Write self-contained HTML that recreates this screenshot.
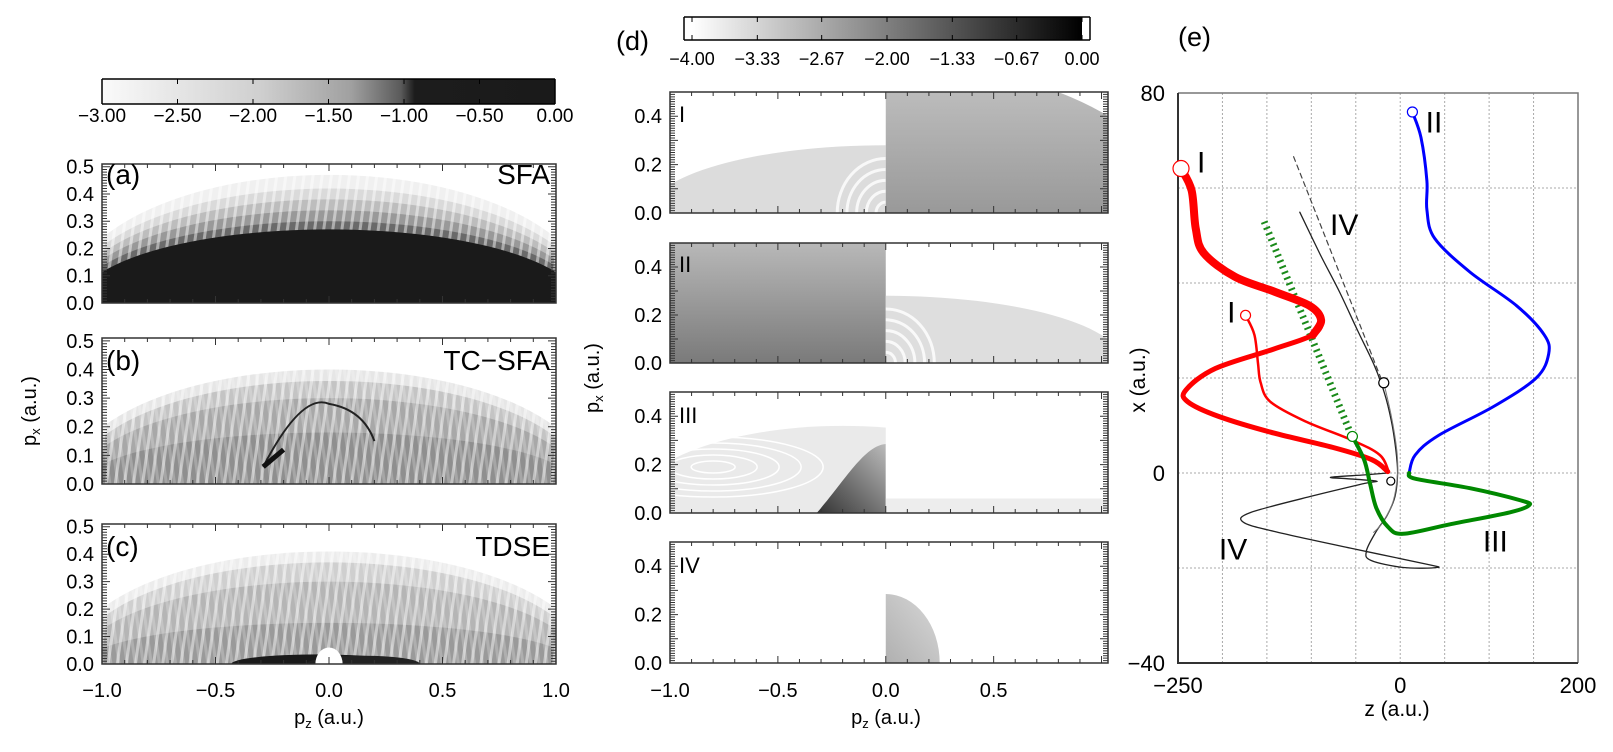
<!DOCTYPE html>
<html><head><meta charset="utf-8"><style>
html,body{margin:0;padding:0;background:#fff;}
svg{display:block;font-family:"Liberation Sans",sans-serif;}
</style></head><body>
<svg id="fig" width="1613" height="752" viewBox="0 0 1613 752" xmlns="http://www.w3.org/2000/svg">
<defs>
<linearGradient id="cbA" x1="0" x2="1" y1="0" y2="0">
<stop offset="0" stop-color="#fafafa"/><stop offset="0.35" stop-color="#cfcfcf"/><stop offset="0.55" stop-color="#a0a0a0"/><stop offset="0.66" stop-color="#5a5a5a"/><stop offset="0.69" stop-color="#1c1c1c"/><stop offset="1" stop-color="#1a1a1a"/>
</linearGradient>
<linearGradient id="cbD" x1="0" x2="1" y1="0" y2="0">
<stop offset="0" stop-color="#ffffff"/><stop offset="1" stop-color="#000000"/>
</linearGradient>
<linearGradient id="gv1" x1="0" x2="0" y1="0" y2="1"><stop offset="0" stop-color="#c4c4c4"/><stop offset="1" stop-color="#6e6e6e"/></linearGradient>
<linearGradient id="gv2" x1="0" x2="0" y1="0" y2="1"><stop offset="0" stop-color="#b8b8b8"/><stop offset="1" stop-color="#7a7a7a"/></linearGradient>
<linearGradient id="gv3" x1="0" x2="1" y1="1" y2="0"><stop offset="0" stop-color="#333"/><stop offset="1" stop-color="#bbb"/></linearGradient>
<linearGradient id="gv4" x1="0" x2="1" y1="1" y2="0"><stop offset="0" stop-color="#888"/><stop offset="1" stop-color="#d8d8d8"/></linearGradient>
<pattern id="stripes" width="9" height="10" patternUnits="userSpaceOnUse" patternTransform="rotate(8)">
<rect width="3" height="10" fill="#fff" opacity="0.45"/></pattern>
<pattern id="stripes2" width="8" height="10" patternUnits="userSpaceOnUse" patternTransform="rotate(-8)">
<rect width="3" height="10" fill="#fff" opacity="0.35"/></pattern>
</defs>
</svg>
<script>
// ---------- data ----------
var cbATicks = [-3.00, -2.50, -2.00, -1.50, -1.00, -0.50, 0.00];
var cbALabels = ["\u22123.00","\u22122.50","\u22122.00","\u22121.50","\u22121.00","\u22120.50","0.00"];
var cbDTicks = [-4.00, -3.33, -2.67, -2.00, -1.33, -0.67, 0.00];
var cbDLabels = ["\u22124.00","\u22123.33","\u22122.67","\u22122.00","\u22121.33","\u22120.67","0.00"];
var pzTicks = [-1.0, -0.5, 0.0, 0.5, 1.0];
var pzLabels = ["\u22121.0","\u22120.5","0.0","0.5","1.0"];
var pzTicksD = [-1.0, -0.5, 0.0, 0.5];
var pzLabelsD = ["\u22121.0","\u22120.5","0.0","0.5"];
var pxTicksABC = [0.0, 0.1, 0.2, 0.3, 0.4, 0.5];
var pxTicksD = [0.0, 0.2, 0.4];
var zTicks = [-250, 0, 200];
var zLabels = ["\u2212250","0","200"];
var xTicks = [80, 0, -40];
var xLabels = ["80","0","\u221240"];
// trajectories (z, x in a.u.)
var redThickZ = [-246.6,-234.7,-230,-221,-186,-142,-102,-89,-98,-142,-208,-241,-239,-204,-142,-76,-32,-14];
var redThickX = [64.1,59.5,51.4,46.3,41.3,38.2,35.2,32.2,29.1,26.1,22,17.5,15,11.9,8.4,5.4,2.8,0.3];
var redThinZ = [-174,-164,-160,-157,-146,-107,-54,-23,-13];
var redThinX = [33.2,29.1,23.1,19,15,10.9,6.9,3.8,0.3];
var blueZ = [13.7,23.4,30,30,38.8,78.5,131,162,167,153,105,43,16.8,10];
var blueX = [76,70.6,61.5,55.4,49.4,42.3,35.2,29.1,25.1,20,14,7.9,3.8,0];
var greenZ = [-53.8,-40.6,-34,-27,-14,3.5,56,123,145,136,78.5,16.8,10];
var greenX = [7.7,2.8,-2.2,-7.3,-11.3,-12.8,-10.8,-8.3,-6.8,-5.8,-3.2,-1.2,0];
var hatchZ = [-153,-56];
var hatchX = [52.9,8.4];
var blackZ = [-113,-90,-68,-48,-30,-18,-10,-5,-3,-6,-15,-27,-38,-33,3.5,41,30,-54,-142,-177,-168,-98,-40,-27,-60,-78,-40,-14];
var blackX = [54.9,46,38,30,23,17,11,5,0,-5,-9,-12.3,-16.4,-18.4,-19.9,-19.9,-19.2,-15.9,-12.3,-10.3,-8.3,-4.8,-2.2,-1.7,-1.2,-0.9,-0.4,0];
var grayZ = [-18.5,-10,-4,-3,-8,-20,-30];
var grayX = [19,12,5,0,-6,-10.5,-12.5];
var dashZ = [-120,-20.7];
var dashX = [66.6,19.5];
var markerZ = [-246.6,-174,13.7,-53.8,-18.5,-10.6];
var markerX = [64.1,33.2,76,7.7,19,-1.7];
var markerR = [8,5,5,5,5,4];
var markerC = ["#f00","#f00","#00f","#080","#000","#000"];
var trajLabels = ["I","II","IV","I","IV","III"];
var trajLabelZ = [-224,38,-63,-190,-188,107];
var trajLabelX = [65.6,74,52.4,34,-15.9,-14.2];

// ---------- helpers ----------
var NS = "http://www.w3.org/2000/svg";
var svg = document.getElementById('fig');
function mk(tag, attrs, parent){
  var e = document.createElementNS(NS, tag);
  for (var k in attrs) e.setAttribute(k, attrs[k]);
  (parent || svg).appendChild(e);
  return e;
}
function txt(s, attrs, parent){ var t = mk('text', attrs, parent); t.textContent = s; return t; }
function lin(d0,d1,r0,r1){ return function(v){ return r0 + (v-d0)/(d1-d0)*(r1-r0); }; }
function smooth(pts){
  var d = "M"+pts[0][0].toFixed(1)+","+pts[0][1].toFixed(1);
  for (var i=0;i<pts.length-1;i++){
    var p0=pts[Math.max(i-1,0)], p1=pts[i], p2=pts[i+1], p3=pts[Math.min(i+2,pts.length-1)];
    var c1=[p1[0]+(p2[0]-p0[0])/6, p1[1]+(p2[1]-p0[1])/6];
    var c2=[p2[0]-(p3[0]-p1[0])/6, p2[1]-(p3[1]-p1[1])/6];
    d += "C"+c1[0].toFixed(1)+","+c1[1].toFixed(1)+" "+c2[0].toFixed(1)+","+c2[1].toFixed(1)+" "+p2[0].toFixed(1)+","+p2[1].toFixed(1);
  }
  return d;
}

// ---------- colorbars ----------
function colorbar(x0,x1,y0,y1,grad,ticks,labels,name,br){
  var g = mk('g',{});
  
  
  var r = mk('rect',{x:x0,y:y0,width:x1-x0,height:y1-y0,fill:'url(#'+grad+')'},g);
  
  
  mk('path',{d:'M'+(x0-br)+','+y0+'H'+(x1+br)+'M'+(x0-br)+','+y1+'H'+(x1+br)+'M'+(x0-br)+','+y0+'V'+y1+'M'+(x1+br)+','+y0+'V'+y1,stroke:'#000','stroke-width':1.5,fill:'none'},g);
  var sx = lin(ticks[0],ticks[ticks.length-1],x0,x1);
  for (var i=0;i<ticks.length;i++){
    var x = sx(ticks[i]);
    mk('line',{x1:x,x2:x,y1:y0,y2:y0+5,stroke:'#000','stroke-width':1},g);
    mk('line',{x1:x,x2:x,y1:y1,y2:y1-5,stroke:'#000','stroke-width':1},g);
    var t = txt(labels[i],{x:x,y:y1+ (name==='colorbar-a'?18:25),'font-size':name==='colorbar-a'?19:18,'text-anchor':'middle'},g);
    
    
  }
}
colorbar(102,555,79,104,'cbA',cbATicks,cbALabels,'colorbar-a',0);
colorbar(692,1082,17,40,'cbD',cbDTicks,cbDLabels,'colorbar-d',8);

// ---------- momentum panels ----------
function frame(P, name, xt, showXLab, yt, yLabFmt, g){
  var fr = mk('rect',{x:P.x0,y:P.top,width:P.x1-P.x0,height:P.bot-P.top,fill:'none',stroke:'#333','stroke-width':1.5},g);
  
  
  var d = "";
  for (var v=-1.0; v<=1.0001; v+=0.1){
    var x = P.sx(v); var major = Math.abs(v*2-Math.round(v*2))<1e-6;
    var L = major?7:4;
    d += "M"+x+","+P.bot+"v"+(-L)+"M"+x+","+P.top+"v"+L;
  }
  for (var w=0; w<=P.ymax+1e-6; w+=0.01){
    var y = P.sy(w); var maj = Math.abs(w*10-Math.round(w*10))<1e-6;
    var L2 = maj?8:5;
    d += "M"+P.x0+","+y+"h"+L2+"M"+P.x1+","+y+"h"+(-L2);
  }
  mk('path',{d:d,stroke:'#333','stroke-width':1,fill:'none'},g);
  for (var i=0;i<yt.length;i++){
    var t = txt(yt[i].toFixed(1),{x:P.x0-8,y:P.sy(yt[i])+7,'font-size':20,'text-anchor':'end'},g);
    
    
  }
}
function panel(name, top, bot, x0, x1, xr, ymax){
  var P = {x0:x0,x1:x1,top:top,bot:bot,ymax:ymax};
  P.sx = lin(-1, xr, x0, x1);
  P.sy = lin(0, ymax, bot, top);
  var g = mk('g',{});
  
  
  var cid = 'clip-'+name;
  var cp = mk('clipPath',{id:cid},svg);
  mk('rect',{x:x0,y:top,width:x1-x0,height:bot-top},cp);
  P.g = g;
  P.img = mk('g',{'clip-path':'url(#'+cid+')'},g);
  return P;
}
function ell(P, cx, rx, ry, fill, parent, extra){
  var a = {cx:P.sx(cx), cy:P.bot, rx:Math.abs(P.sx(rx)-P.sx(0)), ry:Math.abs(P.sy(ry)-P.sy(0)), fill:fill};
  for (var k in extra) a[k]=extra[k];
  return mk('ellipse', a, parent||P.img);
}

// (a) SFA
var PA = panel('panel-a-sfa',164,303,102,556,1.0,0.51);
mk('rect',{x:102,y:164,width:454,height:139,fill:'#fff'},PA.img);
var levelsA=[[1.16,0.47,'#f0f0f0'],[1.15,0.42,'#dadada'],[1.14,0.38,'#bdbdbd'],[1.13,0.34,'#999'],[1.12,0.30,'#6a6a6a']];
for (var i=0;i<levelsA.length;i++) ell(PA,0,levelsA[i][0],levelsA[i][1],levelsA[i][2]);
mk('rect',{x:102,y:164,width:454,height:139,fill:'url(#stripes)'},PA.img);
ell(PA,0,1.1,0.27,'#1a1a1a');
frame(PA,'panel-a',pzTicks,false,pxTicksABC,1,PA.g);
txt('(a)',{x:106,y:184,'font-size':28},PA.g);
txt('SFA',{x:550,y:184,'font-size':28,'text-anchor':'end'},PA.g);

// (b) TC-SFA
var PB = panel('panel-b-tcsfa',338,484,102,556,1.0,0.51);
mk('rect',{x:102,y:338,width:454,height:146,fill:'#fff'},PB.img);
ell(PB,0,1.15,0.40,'#e6e6e6'); ell(PB,0,1.12,0.36,'#c4c4c4'); ell(PB,0,1.10,0.30,'#a8a8a8'); ell(PB,0,1.08,0.18,'#8f8f8f');
mk('rect',{x:102,y:338,width:454,height:146,fill:'url(#stripes)'},PB.img);
mk('rect',{x:102,y:338,width:454,height:146,fill:'url(#stripes2)',opacity:0.6},PB.img);
mk('path',{d:'M'+PB.sx(-0.29)+','+PB.sy(0.06)+' Q'+PB.sx(-0.12)+','+PB.sy(0.32)+' '+PB.sx(0.0)+','+PB.sy(0.28)+' Q'+PB.sx(0.15)+','+PB.sy(0.26)+' '+PB.sx(0.2)+','+PB.sy(0.15),fill:'none',stroke:'#222','stroke-width':2},PB.img);
mk('path',{d:'M'+PB.sx(-0.29)+','+PB.sy(0.06)+' L'+PB.sx(-0.2)+','+PB.sy(0.12),fill:'none',stroke:'#111','stroke-width':5},PB.img);
frame(PB,'panel-b',pzTicks,false,pxTicksABC,1,PB.g);
txt('(b)',{x:106,y:370,'font-size':28},PB.g);
txt('TC\u2212SFA',{x:550,y:370,'font-size':28,'text-anchor':'end'},PB.g);

// (c) TDSE
var PC = panel('panel-c-tdse',524,664,102,556,1.0,0.51);
mk('rect',{x:102,y:524,width:454,height:140,fill:'#fff'},PC.img);
ell(PC,0,1.15,0.41,'#ececec'); ell(PC,0,1.12,0.37,'#cfcfcf'); ell(PC,0,1.10,0.30,'#b5b5b5'); ell(PC,0,1.08,0.15,'#9a9a9a');
mk('rect',{x:102,y:524,width:454,height:140,fill:'url(#stripes)'},PC.img);
mk('rect',{x:102,y:524,width:454,height:140,fill:'url(#stripes2)',opacity:0.6},PC.img);
ell(PC,-0.05,0.38,0.035,'#1a1a1a'); ell(PC,0.15,0.25,0.03,'#222');
ell(PC,0,0.06,0.06,'#fff');
frame(PC,'panel-c',pzTicks,true,pxTicksABC,1,PC.g);
txt('(c)',{x:106,y:556,'font-size':28},PC.g);
txt('TDSE',{x:550,y:556,'font-size':28,'text-anchor':'end'},PC.g);
for (var i=0;i<pzTicks.length;i++){
  var t = txt(pzLabels[i],{x:PC.sx(pzTicks[i]),y:697,'font-size':20,'text-anchor':'middle'});
  
  
}
var xl = mk('text',{x:329,y:724,'font-size':20,'text-anchor':'middle'});
xl.innerHTML = 'p<tspan font-size="13" dy="4">z</tspan><tspan dy="-4"> (a.u.)</tspan>';


var yl = mk('text',{x:0,y:0,'font-size':20,'text-anchor':'middle',transform:'translate(36,411) rotate(-90)'});
yl.innerHTML = 'p<tspan font-size="13" dy="4">x</tspan><tspan dy="-4"> (a.u.)</tspan>';



// (d) panels
var dTops=[92,243,392,542], dBots=[213,363,513,663], dNames=['I','II','III','IV'];
var PD=[];
for (var k=0;k<4;k++){
  var P = panel('panel-d-'+dNames[k], dTops[k], dBots[k], 670, 1108, 1.03, 0.5);
  mk('rect',{x:670,y:dTops[k],width:438,height:dBots[k]-dTops[k],fill:'#fff'},P.img);
  PD.push(P);
}
function half(P, side){
  var id='half-'+P.top+'-'+side;
  var cp = mk('clipPath',{id:id},svg);
  var xs = side<0?P.x0:P.sx(0);
  var xe = side<0?P.sx(0):P.x1;
  mk('rect',{x:xs,y:P.top,width:xe-xs,height:P.bot-P.top},cp);
  return mk('g',{'clip-path':'url(#'+id+')'},P.img);
}
function rings(P, g, n, step, col){
  for (var r=1;r<=n;r++){
    ell(P,0,r*step,r*step*1.0,'none',g,{stroke:col,'stroke-width':3,opacity:0.8});
  }
}
// I
var g1l=half(PD[0],-1), g1r=half(PD[0],1);
ell(PD[0],0,1.1,0.28,'#dcdcdc',g1l); rings(PD[0],g1l,5,0.045,'#fff');
ell(PD[0],0,1.35,0.62,'url(#gv1)',g1r);
// II
var g2l=half(PD[1],-1), g2r=half(PD[1],1);
mk('rect',{x:670,y:243,width:216,height:120,fill:'url(#gv2)'},g2l);
ell(PD[1],0,1.1,0.28,'#dedede',g2r); rings(PD[1],g2r,5,0.045,'#fff');
// III
var g3l=half(PD[2],-1), g3r=half(PD[2],1);
ell(PD[2],-0.2,1.0,0.36,'#eaeaea',g3l);
for (var r=1;r<=5;r++) mk('ellipse',{cx:PD[2].sx(-0.8),cy:PD[2].sy(0.19),rx:r*22,ry:r*6,fill:'none',stroke:'#fff','stroke-width':1.5},g3l);
mk('path',{d:'M'+PD[2].sx(-0.32)+','+PD[2].sy(0)+' C'+PD[2].sx(-0.2)+','+PD[2].sy(0.12)+' '+PD[2].sx(-0.1)+','+PD[2].sy(0.28)+' '+PD[2].sx(0)+','+PD[2].sy(0.285)+' L'+PD[2].sx(0)+','+PD[2].sy(0)+'Z',fill:'url(#gv3)'},g3l);
mk('rect',{x:PD[2].sx(0),y:PD[2].sy(0.06),width:222,height:PD[2].sy(0)-PD[2].sy(0.06),fill:'#ededed'},g3r);
// IV
var g4r=half(PD[3],1);
ell(PD[3],0,0.25,0.285,'url(#gv4)',g4r);
for (var k=0;k<4;k++){
  frame(PD[k],'panel-d-'+dNames[k],pzTicksD,false,pxTicksD,1,PD[k].g);
  var lb = txt(dNames[k],{x:679,y:[122,272,423,573][k],'font-size':22},PD[k].g);
  
  
}
for (var i=0;i<pzTicksD.length;i++){
  var t = txt(pzLabelsD[i],{x:PD[3].sx(pzTicksD[i]),y:697,'font-size':20,'text-anchor':'middle'});
  
  
}
var xl2 = mk('text',{x:886,y:724,'font-size':20,'text-anchor':'middle'});
xl2.innerHTML = 'p<tspan font-size="13" dy="4">z</tspan><tspan dy="-4"> (a.u.)</tspan>';


var yl2 = mk('text',{x:0,y:0,'font-size':20,'text-anchor':'middle',transform:'translate(599,378) rotate(-90)'});
yl2.innerHTML = 'p<tspan font-size="13" dy="4">x</tspan><tspan dy="-4"> (a.u.)</tspan>';


var dl = txt('(d)',{x:616,y:50,'font-size':27});



// ---------- (e) trajectories ----------
var E = {x0:1178,x1:1578,top:93,bot:663};
var sz = lin(-250,200,E.x0,E.x1);
var sxe = lin(-40,80,E.bot,E.top);
var ge = mk('g',{});


var grid="";
for (var z=-200; z<200; z+=50) grid += "M"+sz(z)+","+E.top+"V"+E.bot;
for (var x=-20; x<80; x+=20) grid += "M"+E.x0+","+sxe(x)+"H"+E.x1;
var gl = mk('path',{d:grid,stroke:'#aaa','stroke-width':1,'stroke-dasharray':'2 2',fill:'none'},ge);


mk('path',{d:'M'+E.x0+','+E.top+'H'+E.x1+'V'+E.bot,stroke:'#777','stroke-width':1.5,fill:'none'},ge);
mk('path',{d:'M'+E.x0+','+E.top+'V'+E.bot+'H'+E.x1,stroke:'#333','stroke-width':2,fill:'none'},ge);
function traj(Z,X,color,w,name,extra){
  var pts=[]; for (var i=0;i<Z.length;i++) pts.push([sz(Z[i]),sxe(X[i])]);
  var a={d:smooth(pts),stroke:color,'stroke-width':w,fill:'none','stroke-linejoin':'round','stroke-linecap':'round'};
  for (var k in extra) a[k]=extra[k];
  return mk('path',a,ge);
}
var t1 = traj(blackZ,blackX,'#222',1.3,'iv');


var t1b = traj(grayZ,grayX,'#777',1,'iv-gray');


var t1c = traj(dashZ,dashX,'#444',1.2,'iv-dash',{'stroke-dasharray':'5 4'});


var t2 = traj(hatchZ,hatchX,'#1a8a1a',7,'hatch',{'stroke-dasharray':'2 4','stroke-linecap':'butt'});


var t3 = traj(redThickZ,redThickX,'#f00',5,'red');


var t3b = traj(redThickZ.slice(0,9),redThickX.slice(0,9),'#f00',8,'red2');


var t4 = traj(redThinZ,redThinX,'#f00',2.5,'red-short');


var t5 = traj(blueZ,blueX,'#00f',3,'blue');


var t6 = traj(greenZ,greenX,'#080',4,'green');


for (var i=0;i<markerZ.length;i++){
  var c = mk('circle',{cx:sz(markerZ[i]),cy:sxe(markerX[i]),r:markerR[i],fill:'#fff',stroke:markerC[i],'stroke-width':1.2},ge);
  
  
}
for (var i=0;i<trajLabels.length;i++){
  var t = txt(trajLabels[i],{x:sz(trajLabelZ[i]),y:sxe(trajLabelX[i])+11,'font-size':30,'text-anchor':'middle'},ge);
  
  
}
for (var i=0;i<zTicks.length;i++){
  var t = txt(zLabels[i],{x:sz(zTicks[i]),y:693,'font-size':22,'text-anchor':'middle'},ge);
  
  
}
for (var i=0;i<xTicks.length;i++){
  var t = txt(xLabels[i],{x:1165,y:sxe(xTicks[i])+8,'font-size':22,'text-anchor':'end'},ge);
  
  
}
var zt = txt('z (a.u.)',{x:1397,y:716,'font-size':21,'text-anchor':'middle'},ge);


var xt = txt('x (a.u.)',{x:0,y:0,'font-size':21,'text-anchor':'middle',transform:'translate(1145,380) rotate(-90)'},ge);


var el = txt('(e)',{x:1178,y:46,'font-size':27},ge);


</script>
</body></html>
